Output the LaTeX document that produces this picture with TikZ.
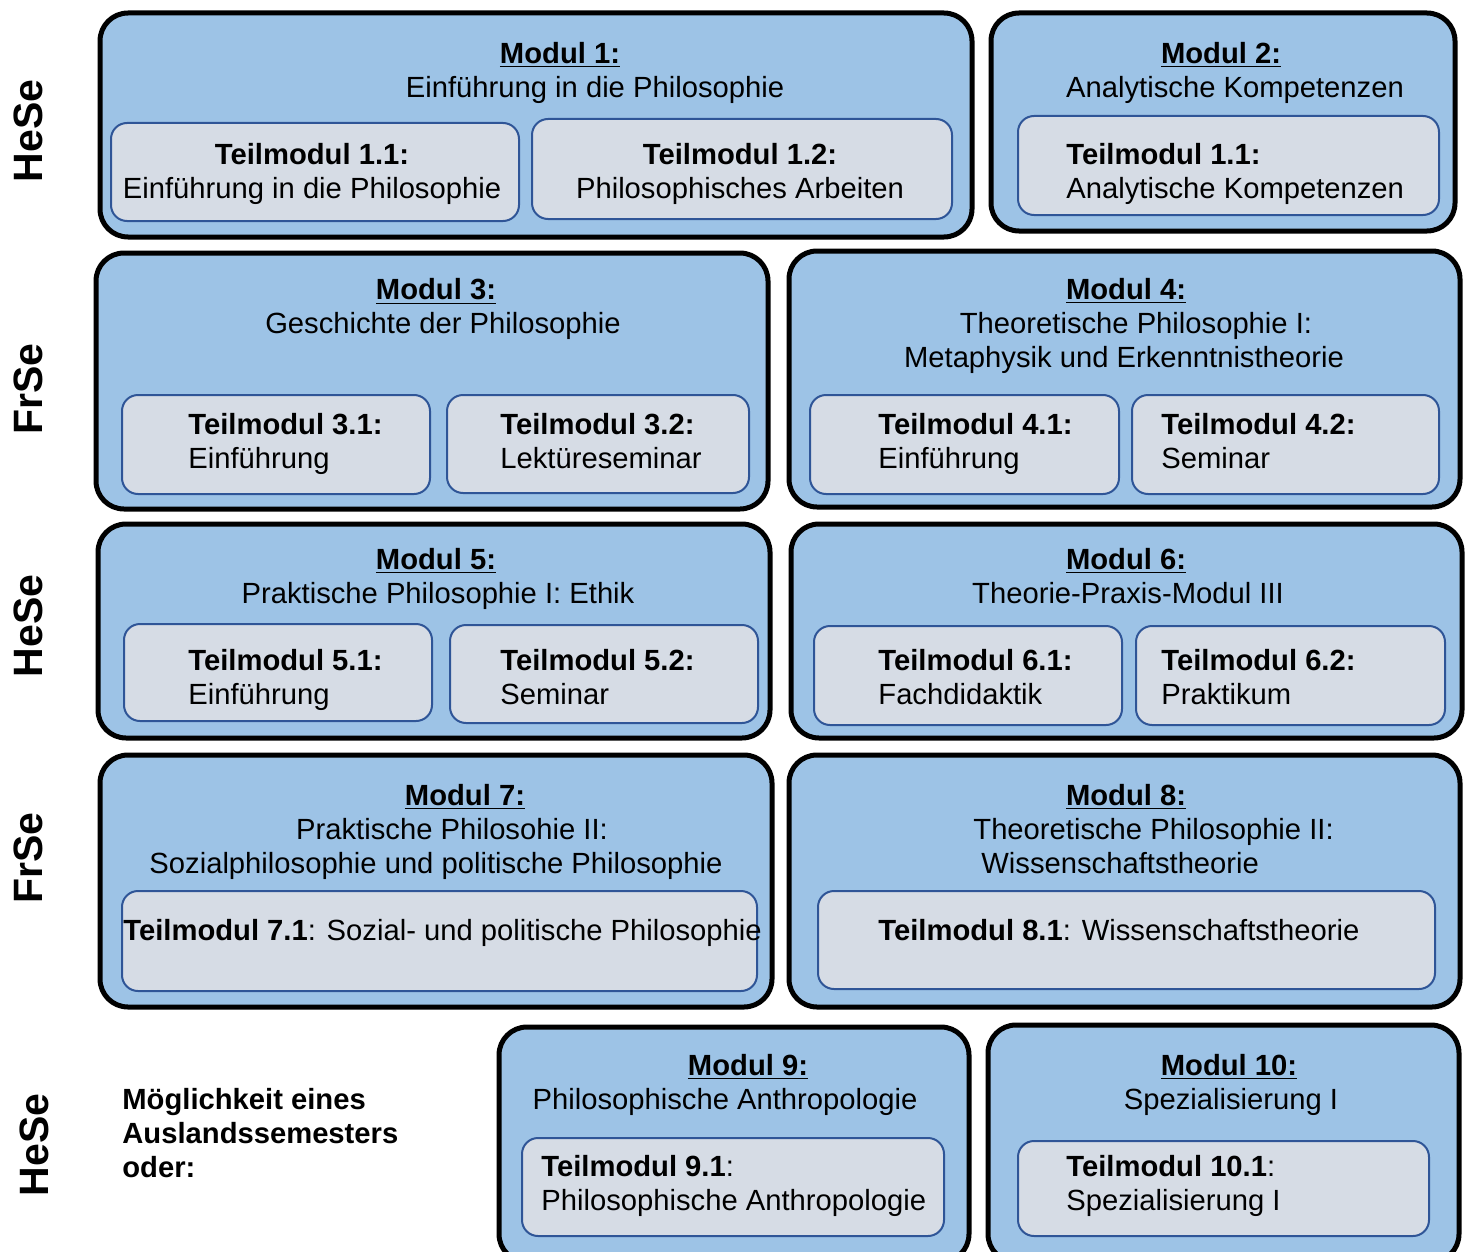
\documentclass[tikz,border=0pt]{standalone}
\usepackage{fontspec}
\setmainfont{Liberation Sans}
\usetikzlibrary{fit}
\definecolor{modulblue}{HTML}{9DC3E6}
\definecolor{teilgray}{HTML}{D6DCE5}
\definecolor{teilline}{HTML}{2F5597}
\begin{document}
\begin{tikzpicture}[x=0.5pt, y=-0.5pt,
    modul/.style={draw=black, line width=2.5pt, fill=modulblue, rounded corners=14pt, inner sep=0pt},
    teil/.style={draw=teilline, line width=1pt, fill=teilgray, rounded corners=8pt, inner sep=0pt},
    txt/.style={font=\fontsize{14.6}{17}\selectfont, align=center, inner sep=0pt,
        execute at begin node=\strut, execute at end node=\strut},
    ltxt/.style={txt, align=left, anchor=west},
    sem/.style={font=\fontsize{20.5}{24}\selectfont\bfseries, rotate=90, inner sep=0pt}]
    \useasboundingbox (0,0) rectangle (1472,1252);

    % Semester labels
    \node[sem] (s1) at (28,131) {HeSe};
    \node[sem] (s2) at (28,389) {FrSe};
    \node[sem] (s3) at (28,626) {HeSe};
    \node[sem] (s4) at (28,858) {FrSe};
    \node[sem] (s5) at (34,1145) {HeSe};

    % Define the module boxes
    \node[modul, fit={(100,13) (972,237)}] (m1) {};
    \node[modul, fit={(991,13) (1455,231)}] (m2) {};
    \node[modul, fit={(96,253) (768,509)}] (m3) {};
    \node[modul, fit={(789,251) (1460,507)}] (m4) {};
    \node[modul, fit={(98,524) (770,738)}] (m5) {};
    \node[modul, fit={(791,524) (1462,738)}] (m6) {};
    \node[modul, fit={(100,755) (772,1007)}] (m7) {};
    \node[modul, fit={(789,755) (1460,1007)}] (m8) {};
    \node[modul, fit={(499,1027) (969,1262)}] (m9) {};
    \node[modul, fit={(988,1025) (1459,1262)}] (m10) {};

    % Module titles
    \node[txt] (tm1) at (560,57) {\textbf{\underline{Modul 1:}}};
    \node[txt] (dm1) at (595,91) {Einführung in die Philosophie};
    \node[txt] (tm2) at (1221,57) {\textbf{\underline{Modul 2:}}};
    \node[txt] (dm2) at (1235,91) {Analytische Kompetenzen};
    \node[txt] (tm3) at (436,293) {\textbf{\underline{Modul 3:}}};
    \node[txt] (dm3) at (443,327) {Geschichte der Philosophie};
    \node[txt] (tm4) at (1126,293) {\textbf{\underline{Modul 4:}}};
    \node[txt] (dm4) at (1124,345) {\hspace*{12pt}Theoretische Philosophie I:\\Metaphysik und Erkenntnistheorie};
    \node[txt] (tm5) at (436,563) {\textbf{\underline{Modul 5:}}};
    \node[txt] (dm5) at (438,597) {Praktische Philosophie I: Ethik};
    \node[txt] (tm6) at (1126,563) {\textbf{\underline{Modul 6:}}};
    \node[txt] (dm6) at (1128,597) {Theorie-Praxis-Modul III};
    \node[txt] (tm7) at (465,799) {\textbf{\underline{Modul 7:}}};
    \node[txt] (dm7) at (436,851) {\hspace*{16pt}Praktische Philosohie II:\\Sozialphilosophie und politische Philosophie};
    \node[txt] (tm8) at (1126,799) {\textbf{\underline{Modul 8:}}};
    \node[ltxt] (dm8) at (973,851) {Theoretische Philosophie II:\\\hspace{4pt}Wissenschaftstheorie};
    \node[txt] (tm9) at (748,1069) {\textbf{\underline{Modul 9:}}};
    \node[txt] (dm9) at (725,1103) {Philosophische Anthropologie};
    \node[txt] (tm10) at (1229,1069) {\textbf{\underline{Modul 10:}}};
    \node[txt] (dm10) at (1231,1103) {Spezialisierung I};

    % Teilmodul boxes
    \node[teil, fit={(111,123) (519,221)}] (t11) {};
    \node[teil, fit={(532,119) (952,219)}] (t12) {};
    \node[teil, fit={(1018,116) (1439,215)}] (t21) {};
    \node[teil, fit={(122,395) (430,494)}] (t31) {};
    \node[teil, fit={(447,395) (749,493)}] (t32) {};
    \node[teil, fit={(810,395) (1119,494)}] (t41) {};
    \node[teil, fit={(1132,395) (1439,494)}] (t42) {};
    \node[teil, fit={(124,624) (432,721)}] (t51) {};
    \node[teil, fit={(450,625) (758,723)}] (t52) {};
    \node[teil, fit={(814,626) (1122,725)}] (t61) {};
    \node[teil, fit={(1136,626) (1445,725)}] (t62) {};
    \node[teil, fit={(122,891) (757,991)}] (t71) {};
    \node[teil, fit={(818,891) (1435,989)}] (t81) {};
    \node[teil, fit={(522,1138) (944,1236)}] (t91) {};
    \node[teil, fit={(1018,1141) (1429,1236)}] (t101) {};

    % Teilmodul texts
    \node[txt] (x11) at (312,176) {\textbf{Teilmodul 1.1:}\\Einführung in die Philosophie};
    \node[txt] (x12) at (740,176) {\textbf{Teilmodul 1.2:}\\Philosophisches Arbeiten};
    \node[ltxt] (x21) at (1066,176) {\textbf{Teilmodul 1.1:}\\Analytische Kompetenzen};
    \node[ltxt] (x31) at (188,446) {\textbf{Teilmodul 3.1:}\\Einführung};
    \node[ltxt] (x32) at (500,446) {\textbf{Teilmodul 3.2:}\\Lektüreseminar};
    \node[ltxt] (x41) at (878,446) {\textbf{Teilmodul 4.1:}\\Einführung};
    \node[ltxt] (x42) at (1161,446) {\textbf{Teilmodul 4.2:}\\Seminar};
    \node[ltxt] (x51) at (188,682) {\textbf{Teilmodul 5.1:}\\Einführung};
    \node[ltxt] (x52) at (500,682) {\textbf{Teilmodul 5.2:}\\Seminar};
    \node[ltxt] (x61) at (878,682) {\textbf{Teilmodul 6.1:}\\Fachdidaktik};
    \node[ltxt] (x62) at (1161,682) {\textbf{Teilmodul 6.2:}\\Praktikum};
    \node[ltxt] (x71) at (123,934) {\textbf{Teilmodul 7.1}: Sozial- und politische Philosophie};
    \node[ltxt] (x81) at (878,934) {\textbf{Teilmodul 8.1}: Wissenschaftstheorie};
    \node[ltxt] (x91) at (541,1188) {\textbf{Teilmodul 9.1}:\\Philosophische Anthropologie};
    \node[ltxt] (x101) at (1066,1188) {\textbf{Teilmodul 10.1}:\\Spezialisierung I};

    % Auslandssemester
    \node[ltxt, font=\fontsize{14.6}{17}\selectfont\bfseries] (aus) at (122,1138) {Möglichkeit eines\\Auslandssemesters\\oder:};
\end{tikzpicture}
\end{document}
